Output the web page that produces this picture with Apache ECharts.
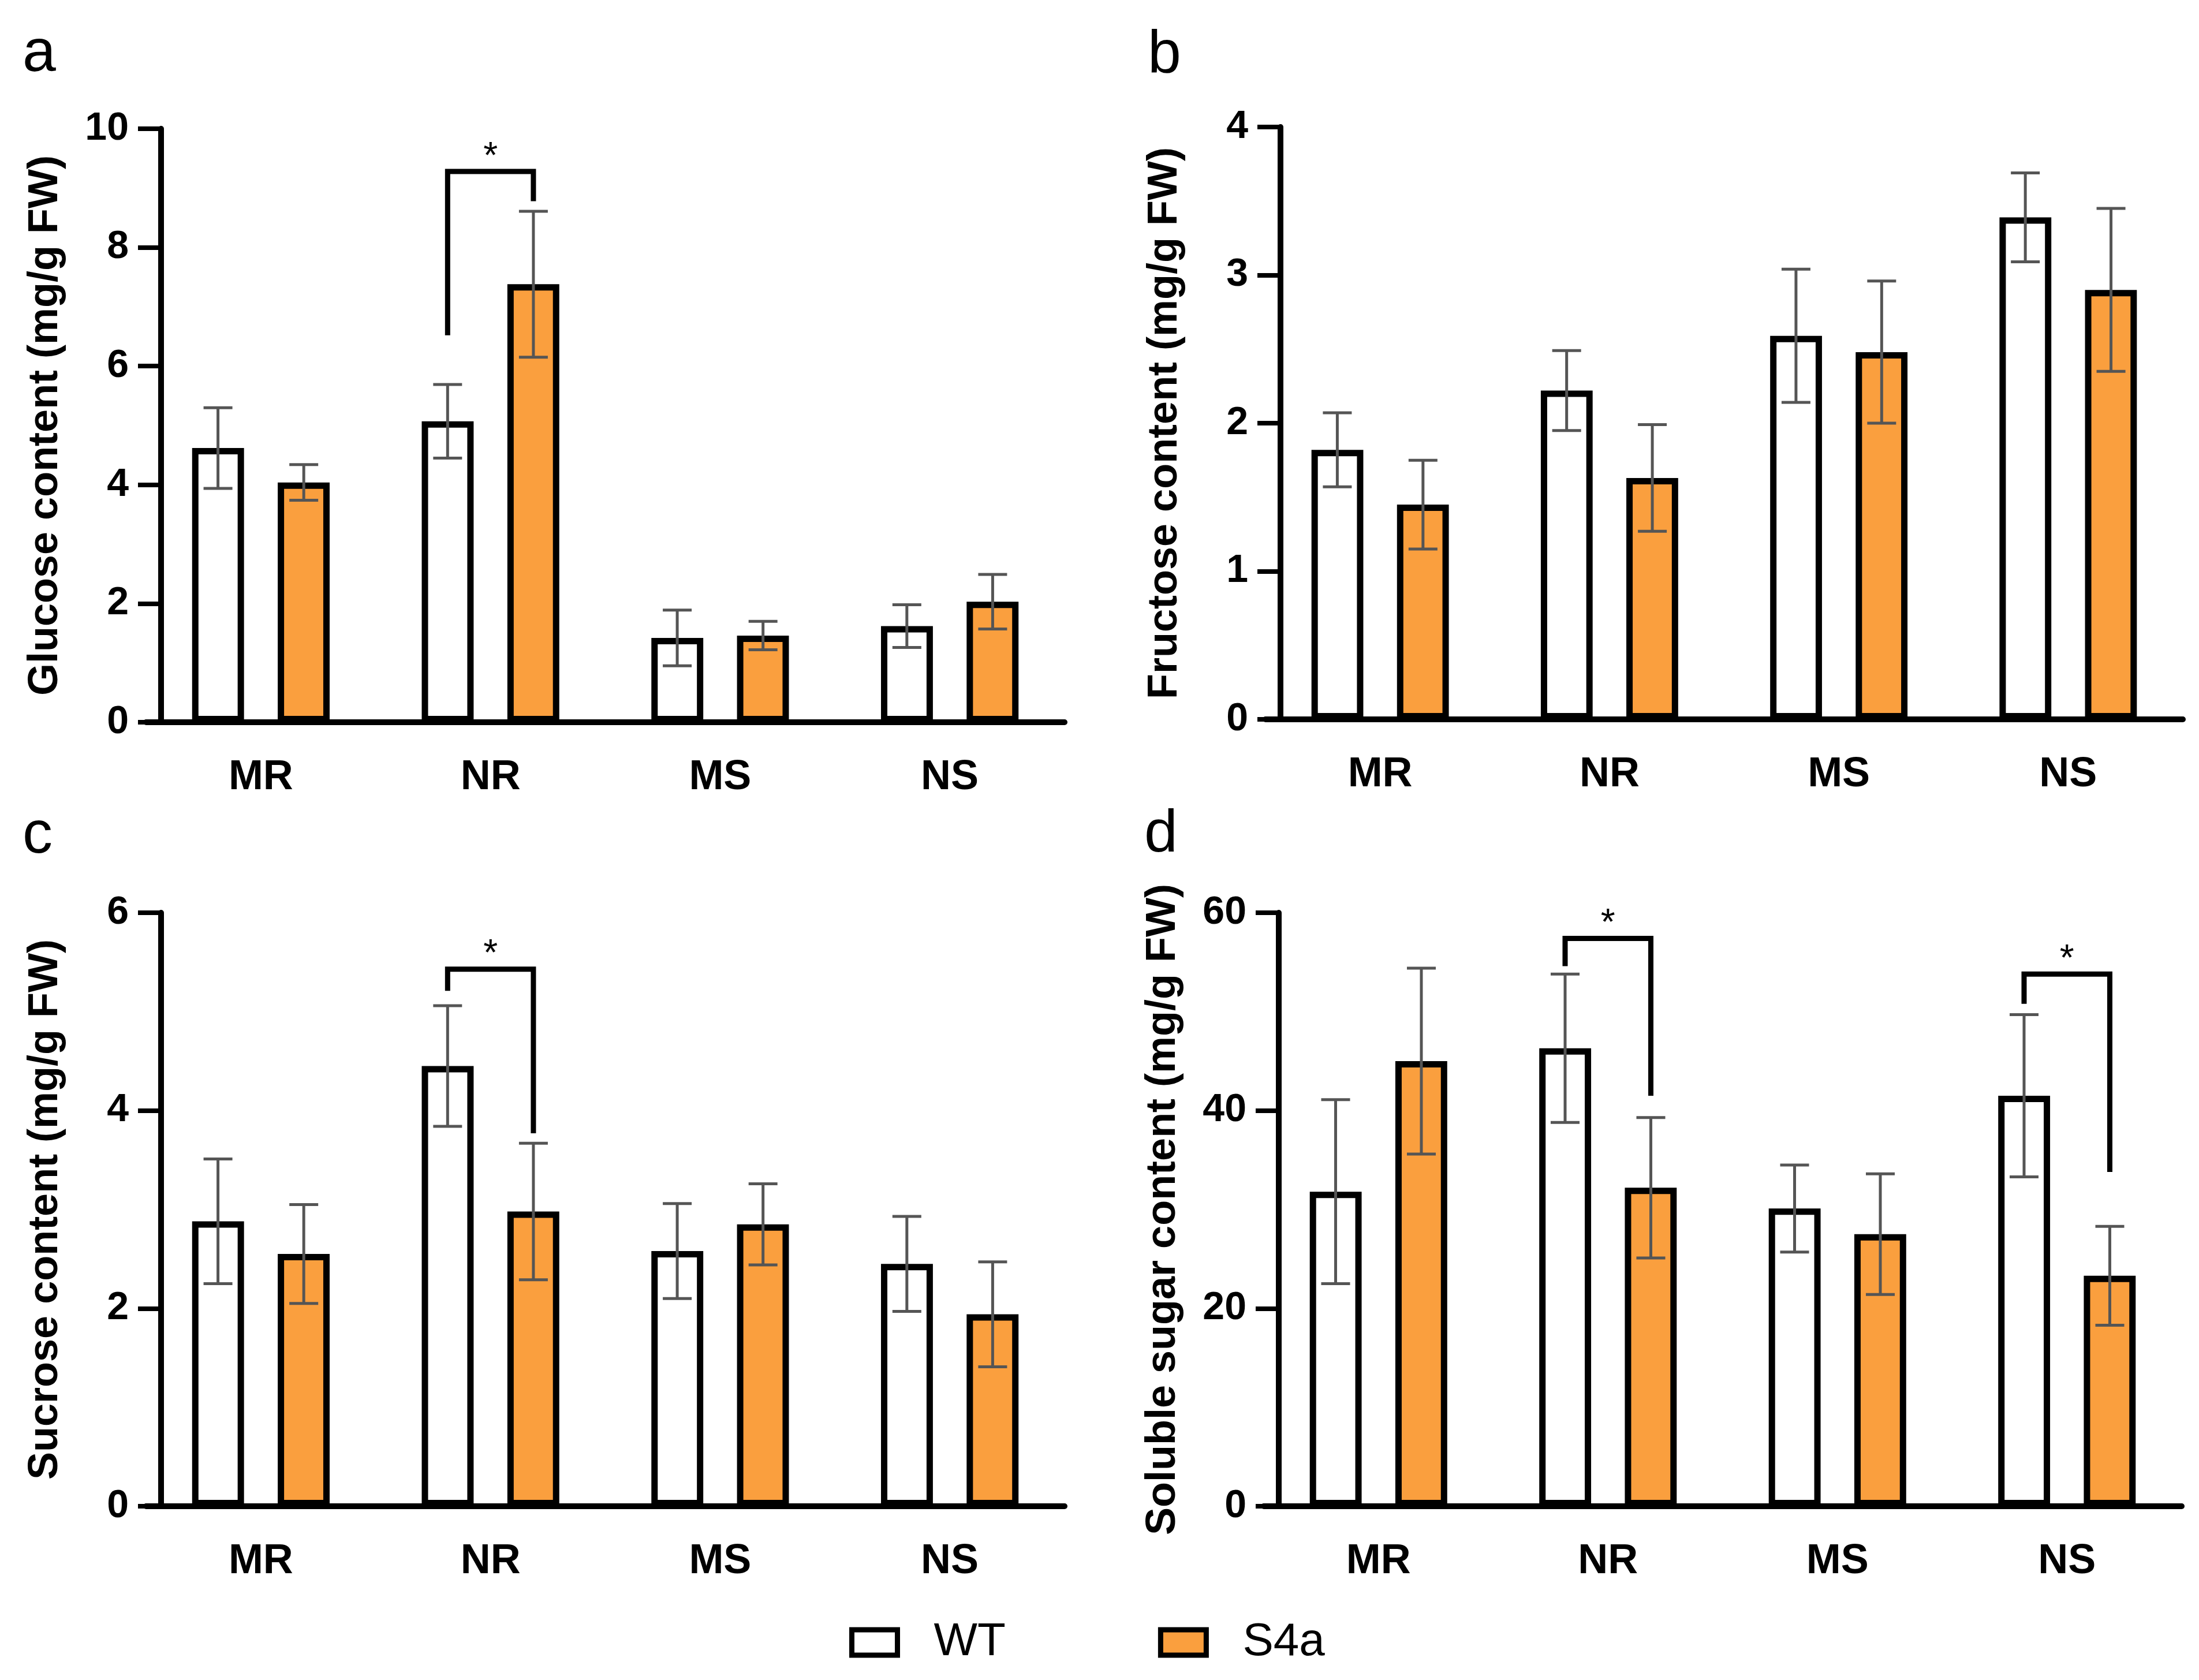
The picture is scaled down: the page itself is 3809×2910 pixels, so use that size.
<!DOCTYPE html>
<html>
<head>
<meta charset="utf-8">
<script src="https://cdn.jsdelivr.net/npm/echarts@6/dist/echarts.min.js"></script>
<style>
  html, body { margin: 0; padding: 0; background: #fff; }
  #chart { width: 3809px; height: 2910px; }
</style>
</head>
<body>
<div id="chart"></div>
<script>
const categories = ['MR', 'NR', 'MS', 'NS']

// a: glucose
const glucoseWT = [4.62, 5.07, 1.42, 1.62]
const glucoseWTErr = [0.68, 0.62, 0.47, 0.36]
const glucoseS4a = [4.04, 7.38, 1.46, 2.03]
const glucoseS4aErr = [0.30, 1.23, 0.24, 0.46]

// b: fructose
const fructoseWT = [1.82, 2.22, 2.59, 3.39]
const fructoseWTErr = [0.25, 0.27, 0.45, 0.30]
const fructoseS4a = [1.45, 1.63, 2.48, 2.90]
const fructoseS4aErr = [0.30, 0.36, 0.48, 0.55]

// c: sucrose
const sucroseWT = [2.88, 4.45, 2.58, 2.45]
const sucroseWTErr = [0.63, 0.61, 0.48, 0.48]
const sucroseS4a = [2.55, 2.98, 2.85, 1.94]
const sucroseS4aErr = [0.50, 0.69, 0.41, 0.53]

// d: soluble sugar
const solubleWT = [31.8, 46.3, 30.1, 41.5]
const solubleWTErr = [9.3, 7.5, 4.4, 8.2]
const solubleS4a = [45.0, 32.2, 27.5, 23.3]
const solubleS4aErr = [9.4, 7.1, 6.1, 5.0]

// significance brackets: [category index, left leg end, top, right leg end]
const glucoseSig = [[1, 6.52, 9.28, 8.78]]
const fructoseSig = []
const sucroseSig = [[1, 5.21, 5.43, 3.77]]
const solubleSig = [[1, 54.6, 57.4, 41.5], [3, 50.8, 53.8, 33.8]]

const yTitles = [
  'Glucose content (mg/g FW)',
  'Fructose content (mg/g FW)',
  'Sucrose content (mg/g FW)',
  'Soluble sugar content (mg/g FW)'
]
const yMax = [10, 4, 6, 60]
const yStep = [2, 1, 2, 20]
const panelLetters = ['a', 'b', 'c', 'd']

const FONT = 'Liberation Sans, Arial, sans-serif'
const ORANGE = '#FA9F3E'
const BAR_SHIFT = 0.1868

const chart = echarts.init(document.getElementById('chart'))

const grids = [
  { left: 253, top: 223, width: 1591, height: 1028 },
  { left: 2192, top: 220, width: 1589, height: 1026 },
  { left: 253, top: 1581, width: 1591, height: 1028 },
  { left: 2189, top: 1581, width: 1590, height: 1028 }
]

const panels = [
  [glucoseWT, glucoseWTErr, glucoseS4a, glucoseS4aErr, glucoseSig],
  [fructoseWT, fructoseWTErr, fructoseS4a, fructoseS4aErr, fructoseSig],
  [sucroseWT, sucroseWTErr, sucroseS4a, sucroseS4aErr, sucroseSig],
  [solubleWT, solubleWTErr, solubleS4a, solubleS4aErr, solubleSig]
]

function errorBars (idx, means, errs, side) {
  return {
    type: 'custom',
    xAxisIndex: idx,
    yAxisIndex: idx,
    z: 5,
    silent: true,
    encode: { x: 0, y: [1, 2] },
    data: means.map((m, i) => [i, m - errs[i], m + errs[i]]),
    renderItem (params, api) {
      const band = api.size([1, 0])[0]
      const lo = api.coord([api.value(0), api.value(1)])
      const hi = api.coord([api.value(0), api.value(2)])
      const x = lo[0] + side * band * BAR_SHIFT
      const cap = 25
      const style = { stroke: '#555', lineWidth: 5 }
      return {
        type: 'group',
        children: [
          { type: 'line', shape: { x1: x, y1: lo[1], x2: x, y2: hi[1] }, style },
          { type: 'line', shape: { x1: x - cap, y1: hi[1], x2: x + cap, y2: hi[1] }, style },
          { type: 'line', shape: { x1: x - cap, y1: lo[1], x2: x + cap, y2: lo[1] }, style }
        ]
      }
    }
  }
}

function brackets (idx, sig) {
  return {
    type: 'custom',
    xAxisIndex: idx,
    yAxisIndex: idx,
    z: 6,
    silent: true,
    encode: { x: 0, y: [1, 2, 3] },
    data: sig,
    renderItem (params, api) {
      const band = api.size([1, 0])[0]
      const c = api.coord([api.value(0), 0])
      const xl = c[0] - band * BAR_SHIFT
      const xr = c[0] + band * BAR_SHIFT
      const yl = api.coord([api.value(0), api.value(1)])[1]
      const yt = api.coord([api.value(0), api.value(2)])[1]
      const yr = api.coord([api.value(0), api.value(3)])[1]
      return {
        type: 'group',
        children: [
          {
            type: 'polyline',
            shape: { points: [[xl, yl], [xl, yt], [xr, yt], [xr, yr]] },
            style: { stroke: '#000', lineWidth: 9, fill: 'none', lineJoin: 'miter' }
          },
          {
            type: 'text',
            style: {
              text: '*', x: (xl + xr) / 2, y: yt - 24,
              align: 'center', verticalAlign: 'middle',
              fontSize: 64, fontFamily: FONT, fill: '#000'
            }
          }
        ]
      }
    }
  }
}

const xAxis = grids.map((g, i) => ({
  type: 'category',
  gridIndex: i,
  data: categories,
  boundaryGap: true,
  axisLine: { lineStyle: { color: '#000', width: 10 } },
  axisTick: { alignWithLabel: true, length: 43, lineStyle: { color: '#000', width: 8 } },
  axisLabel: { margin: 60, fontSize: 72, fontWeight: 'bold', fontFamily: FONT, color: '#000' }
}))

const yAxis = grids.map((g, i) => ({
  type: 'value',
  gridIndex: i,
  min: 0,
  max: yMax[i],
  interval: yStep[i],
  offset: -26,
  name: yTitles[i],
  nameLocation: 'middle',
  nameRotate: 90,
  nameGap: 164,
  nameTextStyle: { fontSize: 72, fontWeight: 'bold', fontFamily: FONT, color: '#000' },
  splitLine: { show: false },
  axisLine: { show: true, lineStyle: { color: '#000', width: 10 } },
  axisTick: { show: true, length: 40, lineStyle: { color: '#000', width: 8 } },
  axisLabel: { margin: 56, fontSize: 68, fontWeight: 'bold', fontFamily: FONT, color: '#000' }
}))

const series = []
panels.forEach((p, i) => {
  const [wt, wtErr, s4a, s4aErr, sig] = p
  series.push({
    name: 'WT',
    type: 'bar',
    xAxisIndex: i,
    yAxisIndex: i,
    barWidth: '22.6%',
    barGap: '65%',
    data: wt,
    itemStyle: { color: '#fff', borderColor: '#000', borderWidth: 11 }
  })
  series.push({
    name: 'S4a',
    type: 'bar',
    xAxisIndex: i,
    yAxisIndex: i,
    barWidth: '22.6%',
    barGap: '65%',
    data: s4a,
    itemStyle: { color: ORANGE, borderColor: '#000', borderWidth: 11 }
  })
  series.push(errorBars(i, wt, wtErr, -1))
  series.push(errorBars(i, s4a, s4aErr, 1))
  if (sig.length) series.push(brackets(i, sig))
})

const letterPos = [[39, 162], [1988, 164], [39, 1516], [1982, 1514]]

const option = {
  backgroundColor: '#fff',
  animation: false,
  grid: grids,
  xAxis,
  yAxis,
  legend: {
    data: ['WT', 'S4a'],
    left: 1471,
    top: 2805,
    padding: 0,
    icon: 'rect',
    itemWidth: 79,
    itemHeight: 44,
    itemGap: 264,
    itemStyle: { borderColor: '#000', borderWidth: 9 },
    textStyle: { fontSize: 80, fontFamily: FONT, color: '#000', lineHeight: 44, padding: [0, 0, 0, 58] }
  },
  graphic: panelLetters.map((t, i) => ({
    type: 'text',
    left: letterPos[i][0],
    top: letterPos[i][1] - 120,
    style: { text: t, fontSize: 104, fontFamily: FONT, fill: '#000' }
  })),
  series
}

chart.setOption(option)
</script>
</body>
</html>
